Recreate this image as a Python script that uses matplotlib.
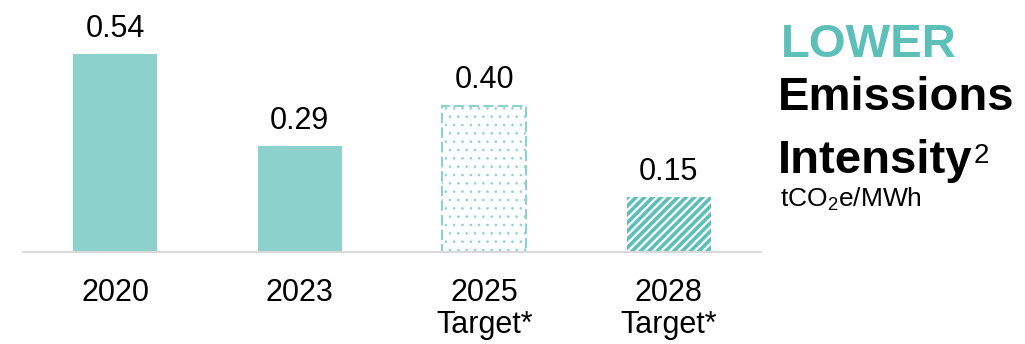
import matplotlib
matplotlib.use('Agg')
import matplotlib.pyplot as plt

plt.rcParams['font.family'] = ['Liberation Sans', 'DejaVu Sans']

# emissions intensity, tCO2e/MWh
years = ['2020', '2023', '2025\nTarget*', '2028\nTarget*']
intensity = [0.54, 0.29, 0.40, 0.15]

solid = '#8dd1cd'
teal = '#5cbfb8'

fig = plt.figure(figsize=(10.25, 3.44), dpi=100)
ax = fig.add_axes([0.0224, 0.2674, 0.72, 0.7326])

x = range(len(years))
bars = ax.bar(x, intensity, width=0.455, color=solid, linewidth=0)

# 2025 target: dotted fill with dashed outline
b = bars[2]
b.set_facecolor('white')
b.set_edgecolor(solid)
b.set_linewidth(1.5)
b.set_linestyle((0, (5, 2)))
b.set_hatch('..')
if hasattr(b, 'set_hatch_linewidth'):
    b.set_hatch_linewidth(0.6)

# 2028 target: diagonal stripes
b = bars[3]
b.set_facecolor('white')
b.set_edgecolor(teal)
b.set_linewidth(0)
b.set_hatch('////')
if hasattr(b, 'set_hatch_linewidth'):
    b.set_hatch_linewidth(2.6)

for xi, v in zip(x, intensity):
    ax.annotate(f'{v:.2f}', (xi, v), xytext=(0, 12.5), textcoords='offset points',
                ha='center', va='baseline', fontsize=22)

ax.set_xlim(-0.5, 3.5)
ax.set_ylim(0, 0.689)
ax.set_xticks(list(x))
ax.set_xticklabels(years, fontsize=22, linespacing=1.12)
ax.tick_params(axis='x', length=0, pad=18.5)
ax.set_yticks([])
for s in ['left', 'right', 'top']:
    ax.spines[s].set_visible(False)
ax.spines['bottom'].set_color('#d9d9d9')
ax.spines['bottom'].set_linewidth(1.5)

# title block on the right
fig.text(0.762, 0.834, 'LOWER', color=teal, fontsize=34, fontweight='bold', va='baseline')
fig.text(0.759, 0.680, 'Emissions', color='black', fontsize=34, fontweight='bold', va='baseline')
t = fig.text(0.759, 0.497, 'Intensity', color='black', fontsize=34, fontweight='bold', va='baseline')
fig.add_artist(plt.Annotation('2', xy=(1, 1), xycoords=t, xytext=(1, -3),
                              textcoords='offset points', fontsize=20, va='top', ha='left'))
fig.text(0.761, 0.398, r'$\mathregular{tCO_2e/MWh}$', fontsize=19, va='baseline')

fig.savefig('out.png', dpi=100)
